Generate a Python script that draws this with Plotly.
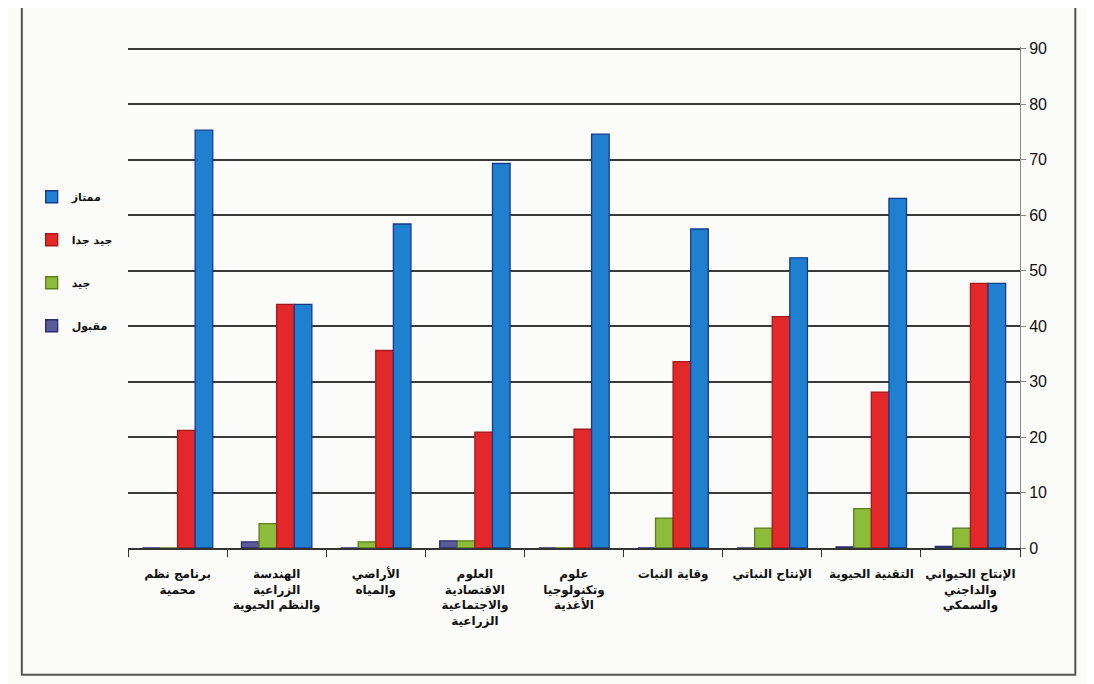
import plotly.graph_objects as go

categories = [
    "برنامج نظم<br>محمية",
    "الهندسة<br>الزراعية<br>والنظم الحيوية",
    "الأراضي<br>والمياه",
    "العلوم<br>الاقتصادية<br>والاجتماعية<br>الزراعية",
    "علوم<br>وتكنولوجيا<br>الأغذية",
    "وقاية النبات",
    "الإنتاج النباتي",
    "التقنية الحيوية",
    "الإنتاج الحيواني<br>والداجني<br>والسمكي",
]

series_names = ["مقبول", "جيد", "جيد جدا", "ممتاز"]
maqbool = [0, 1.1, 0, 1.3, 0, 0, 0, 0.2, 0.3]
jayyed = [0, 4.4, 1.1, 1.3, 0, 5.4, 3.6, 7.1, 3.6]
jayyed_jiddan = [21.2, 43.9, 35.6, 20.9, 21.4, 33.6, 41.7, 28.1, 47.7]
mumtaz = [75.3, 43.9, 58.4, 69.3, 74.6, 57.5, 52.3, 63.0, 47.7]

values = [maqbool, jayyed, jayyed_jiddan, mumtaz]
fills = ["#5b5b9c", "#8dbb3a", "#e3282a", "#1f80cf"]
lines = ["#2c2c6a", "#5d7f1f", "#a81818", "#173a8c"]

y_ticks = list(range(0, 100, 10))

fig = go.Figure()
for i, (name, vals, fc, lc) in enumerate(zip(series_names, values, fills, lines)):
    fig.add_trace(go.Bar(
        x=categories, y=vals, name=name, legendgroup=name,
        legendrank=len(series_names) - i,
        marker=dict(color=fc, line=dict(color=lc, width=1.3)),
    ))

fig.update_layout(
    width=1094, height=684,
    paper_bgcolor="#fbfbf9", plot_bgcolor="#fbfbf9",
    margin=dict(l=120, r=82, t=39, b=144),
    barmode="group", bargap=0.29, bargroupgap=0,
    font=dict(family="DejaVu Sans", color="#111111"),
    showlegend=True,
    legend=dict(
        x=-0.108, y=0.73, xanchor="left", yanchor="top",
        traceorder="grouped", tracegroupgap=24,
        font=dict(size=11, family="DejaVu Sans", weight="bold"),
        bgcolor="rgba(0,0,0,0)", itemwidth=30,
    ),
    xaxis=dict(
        showline=True, linecolor="#333333", linewidth=1.5,
        ticks="outside", tickson="boundaries", ticklen=7, tickcolor="#333333",
        tickangle=0, ticklabelstandoff=14,
        tickfont=dict(size=12, family="DejaVu Sans", weight="bold", color="#111111"),
        showgrid=False,
    ),
    yaxis=dict(
        side="right", range=[0, 90.3], tickvals=y_ticks,
        showline=True, linecolor="#888888", linewidth=1,
        ticks="outside", ticklen=5, tickcolor="#888888",
        showgrid=True, gridcolor="#3a3a3a", gridwidth=1.5,
        tickfont=dict(size=16, family="Liberation Sans", color="#111111"),
        zeroline=False,
    ),
    shapes=[dict(type="rect", xref="paper", yref="paper",
                 x0=-0.119, x1=1.062, y0=-0.253, y1=1.2,
                 line=dict(color="#555555", width=2))],
)

fig.write_html("out.html")
